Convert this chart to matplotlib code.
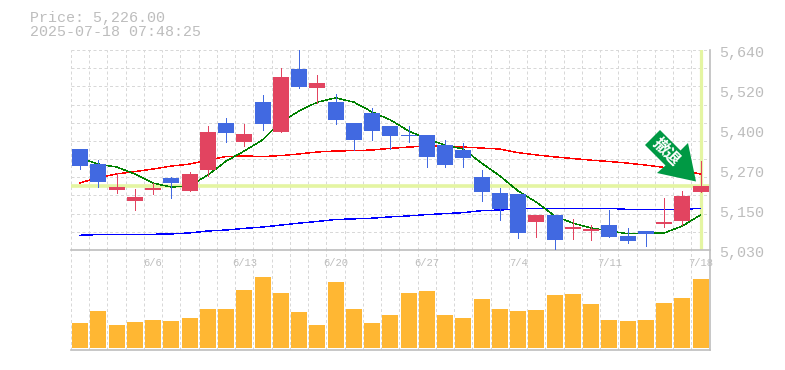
"""Daily candlestick chart with moving averages and a volume panel."""

import matplotlib

matplotlib.use("Agg")
import matplotlib.pyplot as plt
import numpy as np
from matplotlib.patches import Polygon
from matplotlib.transforms import Affine2D

WIDTH, HEIGHT = 785, 370

opens = [5338, 5292, 5213, 5179, 5213, 5250, 5210, 5274, 5418, 5359, 5481, 5390,
         5582, 5524, 5481, 5417, 5448, 5408, 5381, 5381, 5350, 5335, 5253, 5204,
         5201, 5115, 5137, 5094, 5088, 5106, 5073, 5088, 5109, 5118, 5207]
closes = [5287, 5237, 5222, 5192, 5219, 5234, 5262, 5390, 5387, 5384, 5414, 5558,
          5527, 5539, 5427, 5366, 5393, 5378, 5378, 5314, 5289, 5311, 5207, 5155,
          5082, 5137, 5061, 5100, 5094, 5070, 5057, 5080, 5115, 5195, 5226]
highs = [5338, 5305, 5264, 5216, 5234, 5253, 5268, 5408, 5433, 5414, 5503, 5585,
         5640, 5564, 5506, 5417, 5463, 5408, 5408, 5381, 5366, 5356, 5274, 5219,
         5201, 5137, 5137, 5125, 5106, 5152, 5097, 5088, 5189, 5210, 5301]
lows = [5278, 5223, 5205, 5152, 5201, 5189, 5210, 5256, 5359, 5347, 5396, 5390,
        5524, 5478, 5414, 5335, 5366, 5338, 5359, 5283, 5283, 5283, 5179, 5122,
        5067, 5070, 5030, 5064, 5060, 5070, 5051, 5042, 5100, 5106, 5207]

ma_short = [5311, 5292, 5283, 5262, 5234, 5222, 5225, 5259, 5301, 5332, 5366, 5420,
            5454, 5481, 5494, 5481, 5451, 5427, 5393, 5369, 5350, 5338, 5295, 5256,
            5210, 5176, 5134, 5112, 5097, 5088, 5080, 5082, 5082, 5103, 5137]
ma_mid = [5235, 5250, 5262, 5269, 5277, 5286, 5292, 5304, 5315, 5317, 5315, 5318,
          5323, 5329, 5332, 5333, 5335, 5340, 5344, 5347, 5347, 5344, 5341, 5338,
          5327, 5320, 5314, 5309, 5304, 5300, 5295, 5289, 5282, 5271, 5262]
ma_long = [5075, 5077, 5077, 5077, 5078, 5079, 5082, 5088, 5091, 5096, 5100, 5106,
           5112, 5117, 5123, 5125, 5127, 5131, 5134, 5138, 5141, 5144, 5150, 5152,
           5155, 5157, 5157, 5157, 5157, 5157, 5154, 5154, 5154, 5154, 5157]

volumes = [25, 37, 23, 26, 28, 27, 30, 39, 39, 58, 71, 55, 36, 23, 66, 39, 25, 33,
           55, 57, 33, 30, 49, 39, 37, 38, 53, 54, 44, 28, 27, 28, 45, 50, 69]

date_ticks = [4, 9, 14, 19, 24, 29, 34]
date_labels = ["6/6", "6/13", "6/20", "6/27", "7/4", "7/11", "7/18"]
price_ticks = [5030, 5152, 5274, 5396, 5518, 5640]
price_labels = ["5,030", "5,150", "5,270", "5,400", "5,520", "5,640"]
title_lines = ["Price: 5,226.00", "2025-07-18 07:48:25"]
signal_text = "撤退"

TEXT_GREY = "#bdbdbd"
GRID_GREY = "#d8d8d8"
AXIS_GREY = "#bebebe"
BLUE = "#4169e1"
RED = "#e24460"
PALE = "#e4f5a2"
PX = 0.72  # one pixel in points at dpi 100
MONO = "Liberation Mono"


def panel(fig, left, top, right, bottom):
    """Axes placed by pixel edges, top-left origin."""
    return fig.add_axes([left / WIDTH, 1 - bottom / HEIGHT,
                         (right - left) / WIDTH, (bottom - top) / HEIGHT])


def style_panel(ax):
    ax.set_xlim(-0.5, len(closes) - 0.5)
    ax.set_xticks(np.arange(-0.5, len(closes)), minor=True)
    ax.grid(which="minor", axis="x", color=GRID_GREY, lw=PX, ls=(0, (3, 2.5)))
    ax.tick_params(which="both", length=0)
    ax.set_axisbelow(True)
    for side in ("top", "left"):
        ax.spines[side].set_visible(False)
    for side in ("bottom", "right"):
        ax.spines[side].set_color(AXIS_GREY)
        ax.spines[side].set_linewidth(1.2)


fig = plt.figure(figsize=(WIDTH / 100, HEIGHT / 100), dpi=100, facecolor="white")
ax_vol = panel(fig, 71, 250, 709.7, 350)
ax = panel(fig, 71, 50, 709.7, 250)
ax.patch.set_alpha(0)
ax_vol.patch.set_alpha(0)

x = np.arange(len(closes))
opens, closes, highs, lows = map(np.array, (opens, closes, highs, lows))

# price panel
style_panel(ax)
ax.set_ylim(price_ticks[0], price_ticks[-1])
ax.set_yticks(np.linspace(price_ticks[0], price_ticks[-1], 12), minor=True)
ax.grid(which="minor", axis="y", color=GRID_GREY, lw=PX, ls=(0, (3, 2.5)))
ax.set_yticks([])

ax.axhline(closes[-1], color=PALE, lw=3.6 * PX, zorder=1.5)
ax.axvline(x[-1], color=PALE, lw=3.2 * PX, ymin=0.005, zorder=1.5)

for values, color in ((ma_long, "#0000ff"), (ma_mid, "#ff0000"), (ma_short, "#008000")):
    ax.plot(x, values, color=color, lw=0.4 * PX, zorder=2, antialiased=False)

colors = [RED if c >= o else BLUE for o, c in zip(opens, closes)]
ax.vlines(x, lows, highs, colors=colors, lw=PX, zorder=3, antialiased=False)
body = np.maximum(np.abs(closes - opens), 3)
ax.bar(x, body, bottom=np.minimum(opens, closes), width=0.875, color=colors, zorder=4)

ax.set_xticks(date_ticks, date_labels)
for label in ax.get_xticklabels():
    label.set(family=MONO, fontsize=7.6, color=TEXT_GREY)
ax.tick_params(axis="x", pad=5.5)

for value, text in zip(price_ticks, price_labels):
    ax.annotate(text, xy=(1, value), xycoords=ax.get_yaxis_transform(),
                xytext=(9.5, -3), textcoords="offset pixels", va="center",
                family=MONO, fontsize=10.8, color=TEXT_GREY)

# volume panel
style_panel(ax_vol)
ax_vol.set_ylim(-2, 98)
ax_vol.set_yticks([])
ax_vol.set_xticks([])
ax_vol.bar(x, volumes, width=0.875, color="#ffb733", zorder=3)

# signal arrow, in pixels from the top-left corner
to_fig = Affine2D().scale(1 / WIDTH, -1 / HEIGHT).translate(0, 1) + fig.transFigure
arrow_outline = [(660, 130), (645, 145), (665.5, 165.5), (657, 173),
                 (696, 181.5), (688, 143), (680.5, 150.5)]
fig.add_artist(Polygon(arrow_outline, closed=True, transform=to_fig, color="#009944",
                       lw=0, zorder=6))
fig.text(666.2, 152, signal_text, transform=to_fig, rotation=-45, color="white",
         ha="center", va="center", rotation_mode="anchor", fontsize=11.5,
         family=["Noto Sans CJK JP", "DejaVu Sans"], weight="bold", zorder=7)

for y, line in zip((18, 32), title_lines):
    fig.text(30, y, line, transform=to_fig, va="center", family=MONO,
             fontsize=10.8, color=TEXT_GREY)

fig.savefig("out.png", dpi=100, facecolor="white")
